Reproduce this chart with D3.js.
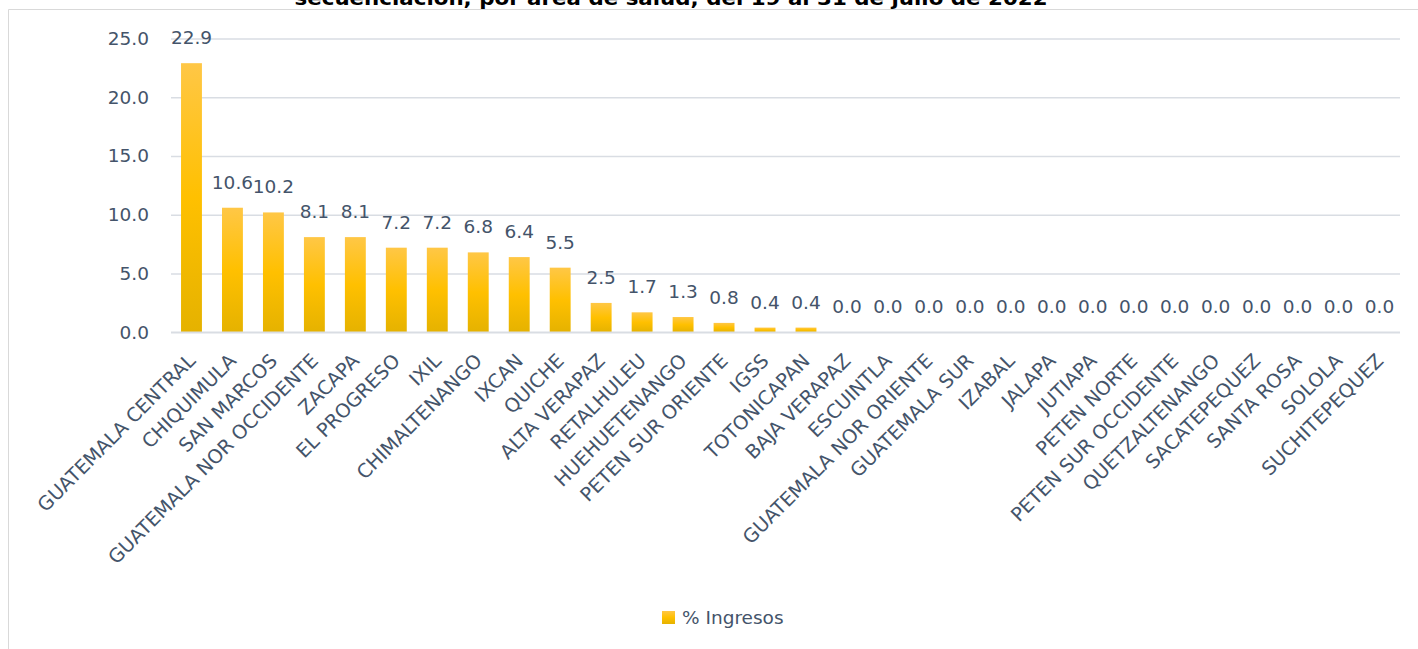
<!DOCTYPE html>
<html>
<head>
<meta charset="utf-8">
<script src="https://cdn.jsdelivr.net/npm/d3@7"></script>
<style>
  body { margin: 0; background: #fff; }
  text { font-family: "DejaVu Sans", sans-serif; }
</style>
</head>
<body>
<div id="chart"></div>
<script>
// chart data
var areas = ["GUATEMALA CENTRAL", "CHIQUIMULA", "SAN MARCOS", "GUATEMALA NOR OCCIDENTE", "ZACAPA",
  "EL PROGRESO", "IXIL", "CHIMALTENANGO", "IXCAN", "QUICHE", "ALTA VERAPAZ", "RETALHULEU",
  "HUEHUETENANGO", "PETEN SUR ORIENTE", "IGSS", "TOTONICAPAN", "BAJA VERAPAZ", "ESCUINTLA",
  "GUATEMALA NOR ORIENTE", "GUATEMALA SUR", "IZABAL", "JALAPA", "JUTIAPA", "PETEN NORTE",
  "PETEN SUR OCCIDENTE", "QUETZALTENANGO", "SACATEPEQUEZ", "SANTA ROSA", "SOLOLA", "SUCHITEPEQUEZ"];
var ingresos = [22.9, 10.6, 10.2, 8.1, 8.1, 7.2, 7.2, 6.8, 6.4, 5.5, 2.5, 1.7, 1.3, 0.8, 0.4, 0.4,
  0, 0, 0, 0, 0, 0, 0, 0, 0, 0, 0, 0, 0, 0];
var yTicks = [0, 5, 10, 15, 20, 25];
var seriesName = "% Ingresos";
var title = "secuenciación, por área de salud, del 19 al 31 de julio de 2022";

var width = 1418, height = 649;
var plotLeft = 171, plotRight = 1400, plotTop = 38.5, plotBottom = 332.3;
var textColor = "#44546A";

var svg = d3.select("#chart").append("svg")
  .attr("width", width)
  .attr("height", height);

var defs = svg.append("defs");
var grad = defs.append("linearGradient")
  .attr("id", "barGrad")
  .attr("x1", 0).attr("y1", 0).attr("x2", 0).attr("y2", 1);
grad.append("stop").attr("offset", "0%").attr("stop-color", "#FFC746");
grad.append("stop").attr("offset", "50%").attr("stop-color", "#FFC000");
grad.append("stop").attr("offset", "100%").attr("stop-color", "#E5B200");

// title (cut off at top) and chart frame
svg.append("text")
  .attr("x", 671)
  .attr("y", 5)
  .attr("text-anchor", "middle")
  .attr("font-weight", "bold")
  .attr("font-size", 20)
  .attr("textLength", 753)
  .attr("lengthAdjust", "spacingAndGlyphs")
  .attr("fill", "#000")
  .text(title);

svg.append("path")
  .attr("d", `M8.5,${height} V9.5 H${width}`)
  .attr("fill", "none")
  .attr("stroke", "#D9D9D9")
  .attr("stroke-width", 1);

var x = d3.scaleBand()
  .domain(areas)
  .range([plotLeft, plotRight])
  .paddingInner(0.49)
  .paddingOuter(0.245);

var y = d3.scaleLinear()
  .domain([0, 25])
  .range([plotBottom, plotTop]);

// gridlines + y labels
var yAxis = svg.append("g")
  .attr("transform", `translate(${plotLeft},0)`)
  .call(d3.axisLeft(y).tickValues(yTicks).tickSize(-(plotRight - plotLeft)).tickPadding(22).tickFormat(d3.format(".1f")));
yAxis.select(".domain").remove();
yAxis.selectAll(".tick line").attr("stroke", "#D9DDE3").attr("stroke-width", 1.5);
yAxis.selectAll(".tick text")
  .attr("fill", textColor)
  .attr("font-size", 18.5)
  .attr("font-family", "DejaVu Sans, sans-serif");

// bars
svg.append("g").selectAll("rect")
  .data(ingresos)
  .join("rect")
  .attr("x", (d, i) => x(areas[i]))
  .attr("y", d => y(d))
  .attr("width", x.bandwidth())
  .attr("height", d => y(0) - y(d))
  .attr("fill", "url(#barGrad)");

// value labels
svg.append("g").selectAll("text")
  .data(ingresos)
  .join("text")
  .attr("x", (d, i) => x(areas[i]) + x.bandwidth() / 2)
  .attr("y", d => y(d) - 19)
  .attr("text-anchor", "middle")
  .attr("font-size", 18.5)
  .attr("fill", textColor)
  .text(d => d3.format(".1f")(d));

// zero axis line on top of bars
svg.append("line")
  .attr("x1", plotLeft).attr("x2", plotRight)
  .attr("y1", y(0)).attr("y2", y(0))
  .attr("stroke", "#D9DDE3")
  .attr("stroke-width", 1.5);

// category labels, rotated
svg.append("g").selectAll("text")
  .data(areas)
  .join("text")
  .attr("transform", d => `translate(${x(d) + x.bandwidth() / 2 + 5},362) rotate(-45)`)
  .attr("text-anchor", "end")
  .attr("font-size", 19.3)
  .attr("fill", textColor)
  .text(d => d);

// legend
var legend = svg.append("g").attr("transform", "translate(662,611)");
legend.append("rect")
  .attr("width", 13).attr("height", 13)
  .attr("fill", "url(#barGrad)");
legend.append("text")
  .attr("x", 20).attr("y", 13)
  .attr("font-size", 18.5)
  .attr("fill", textColor)
  .text(seriesName);
</script>
</body>
</html>
